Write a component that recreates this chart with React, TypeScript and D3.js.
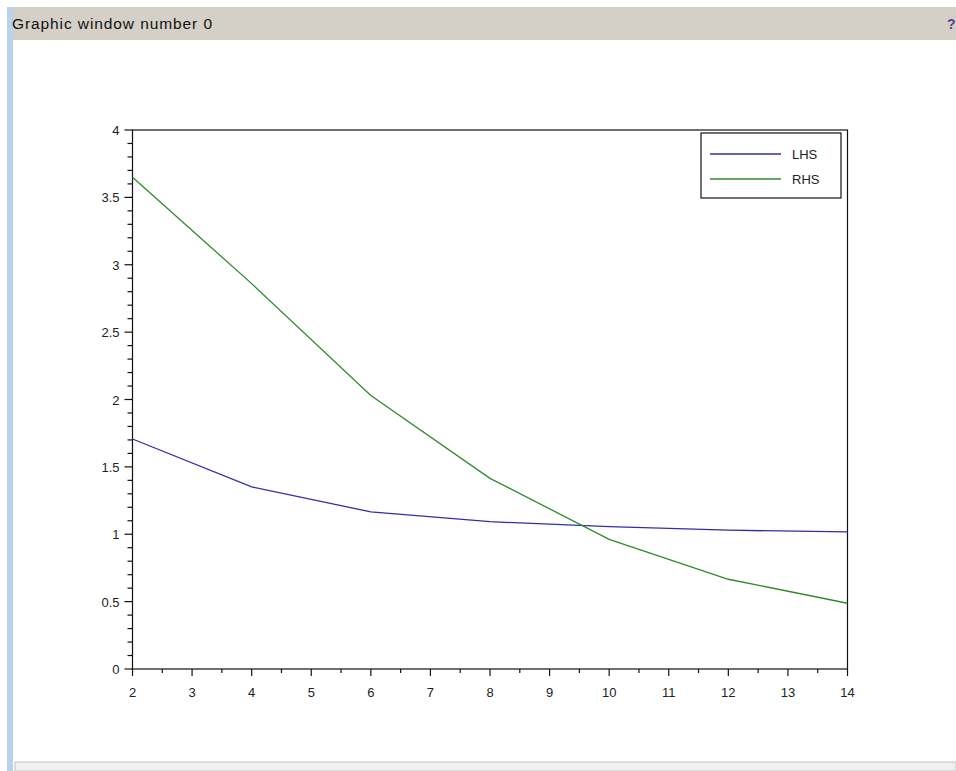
import React from "react"
import * as d3 from "d3"

// values
const xs = [2, 4, 6, 8, 10, 12, 14]
const lhs = [1.707, 1.352, 1.166, 1.093, 1.056, 1.03, 1.017]
const rhs = [3.65, 2.86, 2.03, 1.415, 0.962, 0.666, 0.488]
const seriesNames = ["LHS", "RHS"]
const xTicks = [2, 3, 4, 5, 6, 7, 8, 9, 10, 11, 12, 13, 14]
const yTicks = [0, 0.5, 1, 1.5, 2, 2.5, 3, 3.5, 4]

const W = 956
const H = 771
const font = "'Liberation Sans', Arial, sans-serif"
const colors = ["#3030a4", "#2f8a2f"]

export default function App() {
  const x = d3.scaleLinear().domain([2, 14]).range([132.5, 847.5])
  const y = d3.scaleLinear().domain([0, 4]).range([669, 130])

  const line = d3
    .line<[number, number]>()
    .x(d => x(d[0]))
    .y(d => y(d[1]))

  const series = [lhs, rhs].map(vals => xs.map((v, i) => [v, vals[i]] as [number, number]))

  const xMinor = d3.range(2, 14.01, 0.5).filter(v => !Number.isInteger(v))
  const yMinor = d3.range(0, 4.001, 0.1).filter(v => Math.abs(v * 2 - Math.round(v * 2)) > 0.01)

  const [x0, x1] = x.range()
  const [y0, y1] = y.range()

  return (
    <div style={{ position: "absolute", left: 0, top: 0 }}>
      <svg width={W} height={H} style={{ display: "block" }}>
        <rect x={0} y={0} width={W} height={H} fill="#ffffff" />
        {/* window chrome */}
        <rect x={13} y={7} width={W - 13} height={33} fill="#d4d0c8" />
        <rect x={7} y={7} width={6} height={H - 7} fill="#bad2ec" />
        <text x={12} y={29} fontFamily={font} fontSize={15.5} fill="#111" textLength={200} lengthAdjust="spacing">
          Graphic window number 0
        </text>
        <text x={947} y={29} fontFamily={font} fontSize={14} fontWeight="bold" fill="#5b3e8e">
          ?
        </text>
        <rect x={15} y={762} width={W - 15} height={9} fill="#f0f0f0" stroke="#c4c4c4" strokeWidth={1} />

        {/* axes box */}
        <rect x={x0} y={y1} width={x1 - x0} height={y0 - y1} fill="none" stroke="#111" strokeWidth={1.2} />

        {/* y ticks */}
        {yTicks.map(t => (
          <g key={"y" + t}>
            <line x1={x0 - 8} x2={x0} y1={y(t)} y2={y(t)} stroke="#111" strokeWidth={1.2} />
            <text x={x0 - 13} y={y(t) + 5} textAnchor="end" fontFamily={font} fontSize={13} fill="#222">
              {t}
            </text>
          </g>
        ))}
        {yMinor.map(t => (
          <line key={"ym" + t} x1={x0 - 5} x2={x0} y1={y(t)} y2={y(t)} stroke="#111" strokeWidth={1.2} />
        ))}

        {/* x ticks */}
        {xTicks.map(t => (
          <g key={"x" + t}>
            <line x1={x(t)} x2={x(t)} y1={y0} y2={y0 + 7} stroke="#111" strokeWidth={1.2} />
            <text x={x(t)} y={y0 + 28} textAnchor="middle" fontFamily={font} fontSize={13} fill="#222">
              {t}
            </text>
          </g>
        ))}
        {xMinor.map(t => (
          <line key={"xm" + t} x1={x(t)} x2={x(t)} y1={y0} y2={y0 + 4} stroke="#111" strokeWidth={1.2} />
        ))}

        {/* curves */}
        {series.map((s, i) => (
          <path key={i} d={line(s) || ""} fill="none" stroke={colors[i]} strokeWidth={1.3} />
        ))}

        {/* legend */}
        <rect x={701} y={133} width={140} height={65} fill="#fff" stroke="#111" strokeWidth={1.2} />
        {seriesNames.map((n, i) => (
          <g key={n}>
            <line x1={710} x2={781} y1={154 + i * 25} y2={154 + i * 25} stroke={colors[i]} strokeWidth={1.3} />
            <text x={792} y={158.5 + i * 25} fontFamily={font} fontSize={13} fill="#222">
              {n}
            </text>
          </g>
        ))}
      </svg>
    </div>
  )
}
